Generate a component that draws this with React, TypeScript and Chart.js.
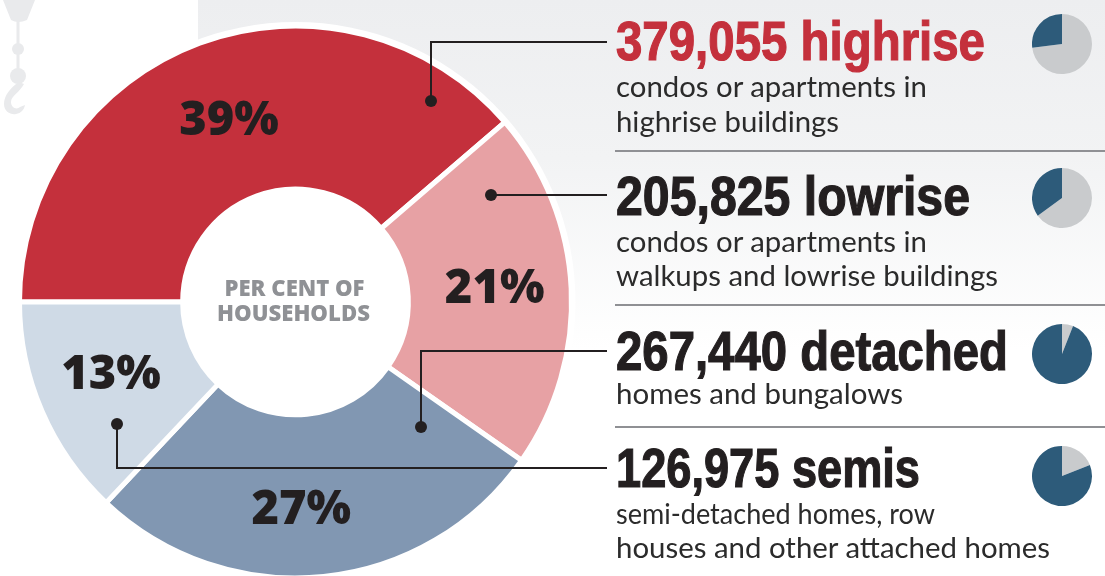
import React, { useEffect, useRef } from "react";
import { Chart, registerables } from "chart.js";

Chart.register(...registerables);

const homeTypes = ["Highrise", "Lowrise", "Detached", "Semis"];
const households = [379055, 205825, 267440, 126975];
const shareLabels = ["39%", "21%", "27%", "13%"];
const sliceColors = ["#c4303c", "#e7a1a4", "#8197b2", "#cfdae6"];
const miniPieShares = [
  [73, 27],
  [65, 35],
  [6, 94],
  [19, 81],
];
const miniPieTops = [14, 168, 324, 446];

const headings = [
  { text: "379,055 highrise", x: 616, y: 60, w: 369, color: "#c4303c" },
  { text: "205,825 lowrise", x: 616, y: 215, w: 354, color: "#231f20" },
  { text: "267,440 detached", x: 616, y: 370, w: 392, color: "#231f20" },
  { text: "126,975 semis", x: 616, y: 487, w: 304, color: "#231f20" },
];
const bodyLines = [
  { text: "condos or apartments in", x: 616, y: 97, w: 311 },
  { text: "highrise buildings", x: 616, y: 132, w: 223 },
  { text: "condos or apartments in", x: 616, y: 252, w: 311 },
  { text: "walkups and lowrise buildings", x: 616, y: 286, w: 382 },
  { text: "homes and bungalows", x: 616, y: 404, w: 287 },
  { text: "semi-detached homes, row", x: 616, y: 524, w: 319 },
  { text: "houses and other attached homes", x: 616, y: 558, w: 434 },
];
const ruleYs = [151, 305, 427];
const labelNudges = [[1, 2], [5, -3], [-14, 15], [-6, -3]];
const callouts = [
  [[431, 101], [431, 42], [607, 42]],
  [[491, 195], [607, 195]],
  [[421, 427], [421, 351], [607, 351]],
  [[117, 424], [117, 468], [607, 468]],
];

const donutDecor = {
  id: "donutDecor",
  beforeDatasetsDraw(chart: any) {
    const arc = chart.getDatasetMeta(0).data[0];
    const { ctx } = chart;
    ctx.save();
    ctx.fillStyle = "#ffffff";
    ctx.beginPath();
    ctx.arc(arc.x, arc.y, 280, 0, Math.PI * 2);
    ctx.fill();
    ctx.restore();
  },
  afterDatasetsDraw(chart: any) {
    const { ctx } = chart;
    const meta = chart.getDatasetMeta(0).data;
    ctx.save();
    ctx.textAlign = "center";
    ctx.textBaseline = "middle";
    ctx.fillStyle = "#231f20";
    ctx.font = "800 47px 'Open Sans'";
    meta.forEach((el: any, i: number) => {
      const p = el.getCenterPoint();
      ctx.fillText(shareLabels[i], p.x + labelNudges[i][0], p.y + labelNudges[i][1]);
    });
    ctx.fillStyle = "#8f9195";
    ctx.font = "800 23px 'Open Sans'";
    ctx.fillText("PER CENT OF", meta[0].x - 1, meta[0].y - 13, 140);
    ctx.fillText("HOUSEHOLDS", meta[0].x - 2, meta[0].y + 12, 153);
    ctx.strokeStyle = "#231f20";
    ctx.fillStyle = "#231f20";
    ctx.lineWidth = 2;
    callouts.forEach((pts) => {
      ctx.beginPath();
      pts.forEach(([x, y], i) => (i ? ctx.lineTo(x, y) : ctx.moveTo(x, y)));
      ctx.stroke();
      ctx.beginPath();
      ctx.arc(pts[0][0], pts[0][1], 6, 0, Math.PI * 2);
      ctx.fill();
    });
    ctx.restore();
  },
};

function MiniPie({ shares, top }: { shares: number[]; top: number }) {
  const ref = useRef<HTMLCanvasElement>(null);
  useEffect(() => {
    const chart = new Chart(ref.current!, {
      type: "pie",
      data: {
        labels: ["Other", "This type"],
        datasets: [{ data: shares, backgroundColor: ["#c9cbcd", "#2d5b7a"], borderWidth: 0 }],
      },
      options: {
        responsive: false,
        animation: false,
        layout: { padding: 0 },
        plugins: { legend: { display: false }, tooltip: { enabled: false } },
      },
    });
    return () => chart.destroy();
  }, []);
  return (
    <canvas
      ref={ref}
      width={60}
      height={60}
      style={{ position: "absolute", left: 1031.5, top, width: 60, height: 60 }}
    />
  );
}

export default function App() {
  const ref = useRef<HTMLCanvasElement>(null);
  useEffect(() => {
    const chart = new Chart(ref.current!, {
      type: "doughnut",
      data: {
        labels: homeTypes,
        datasets: [
          {
            data: households,
            backgroundColor: sliceColors,
            borderColor: "#ffffff",
            borderWidth: 5,
          },
        ],
      },
      options: {
        responsive: false,
        animation: false,
        rotation: -90,
        radius: 276,
        cutout: 111,
        layout: { padding: { left: 0, right: 514, top: 28, bottom: 0 } },
        plugins: { legend: { display: false }, tooltip: { enabled: false } },
      },
      plugins: [donutDecor],
    });
    return () => chart.destroy();
  }, []);

  return (
    <div
      style={{
        position: "absolute",
        left: 0,
        top: 0,
        width: 1105,
        height: 576,
        overflow: "hidden",
        background: "#ffffff",
      }}
    >
      <div
        style={{
          position: "absolute",
          left: 198,
          top: 0,
          width: 907,
          height: 350,
          background: "linear-gradient(#edeef0, #f2f3f4 45%, #ffffff)",
        }}
      />
      <svg width={40} height={120} style={{ position: "absolute", left: 0, top: 0 }}>
        <path d="M3 0H35L27 20Q18 24 11 20Z" fill="#e9eaec" />
        <rect x={16.5} y={20} width={3} height={55} fill="#e9eaec" />
        <circle cx={18} cy={49} r={6} fill="#e9eaec" />
        <circle cx={18} cy={76} r={8} fill="#e9eaec" />
        <path
          d="M19 82C10 88 4 96 4 104C4 112 11 115 16 114C21 113 24 110 25 105L20 107C17 110 11 108 11 102C11 96 20 92 24 84Z"
          fill="#e9eaec"
        />
      </svg>
      <canvas
        ref={ref}
        width={1105}
        height={576}
        style={{ position: "absolute", left: 0, top: 0, width: 1105, height: 576 }}
      />
      <svg width={1105} height={576} style={{ position: "absolute", left: 0, top: 0 }}>
        {ruleYs.map((y) => (
          <line key={y} x1={615} x2={1105} y1={y} y2={y} stroke="#8f9094" strokeWidth={2} />
        ))}
        {headings.map((h) => (
          <text
            key={h.text}
            x={h.x}
            y={h.y}
            fill={h.color}
            stroke={h.color}
            strokeWidth={1.2}
            textLength={h.w}
            lengthAdjust="spacingAndGlyphs"
            style={{ font: "700 56px 'Liberation Sans'" }}
          >
            {h.text}
          </text>
        ))}
        {bodyLines.map((b) => (
          <text
            key={b.text + b.y}
            x={b.x}
            y={b.y}
            fill="#2b2b2b"
            textLength={b.w}
            lengthAdjust="spacingAndGlyphs"
            style={{ font: "400 28px Lato" }}
          >
            {b.text}
          </text>
        ))}
      </svg>
      {miniPieShares.map((s, i) => (
        <MiniPie key={i} shares={s} top={miniPieTops[i]} />
      ))}
    </div>
  );
}
